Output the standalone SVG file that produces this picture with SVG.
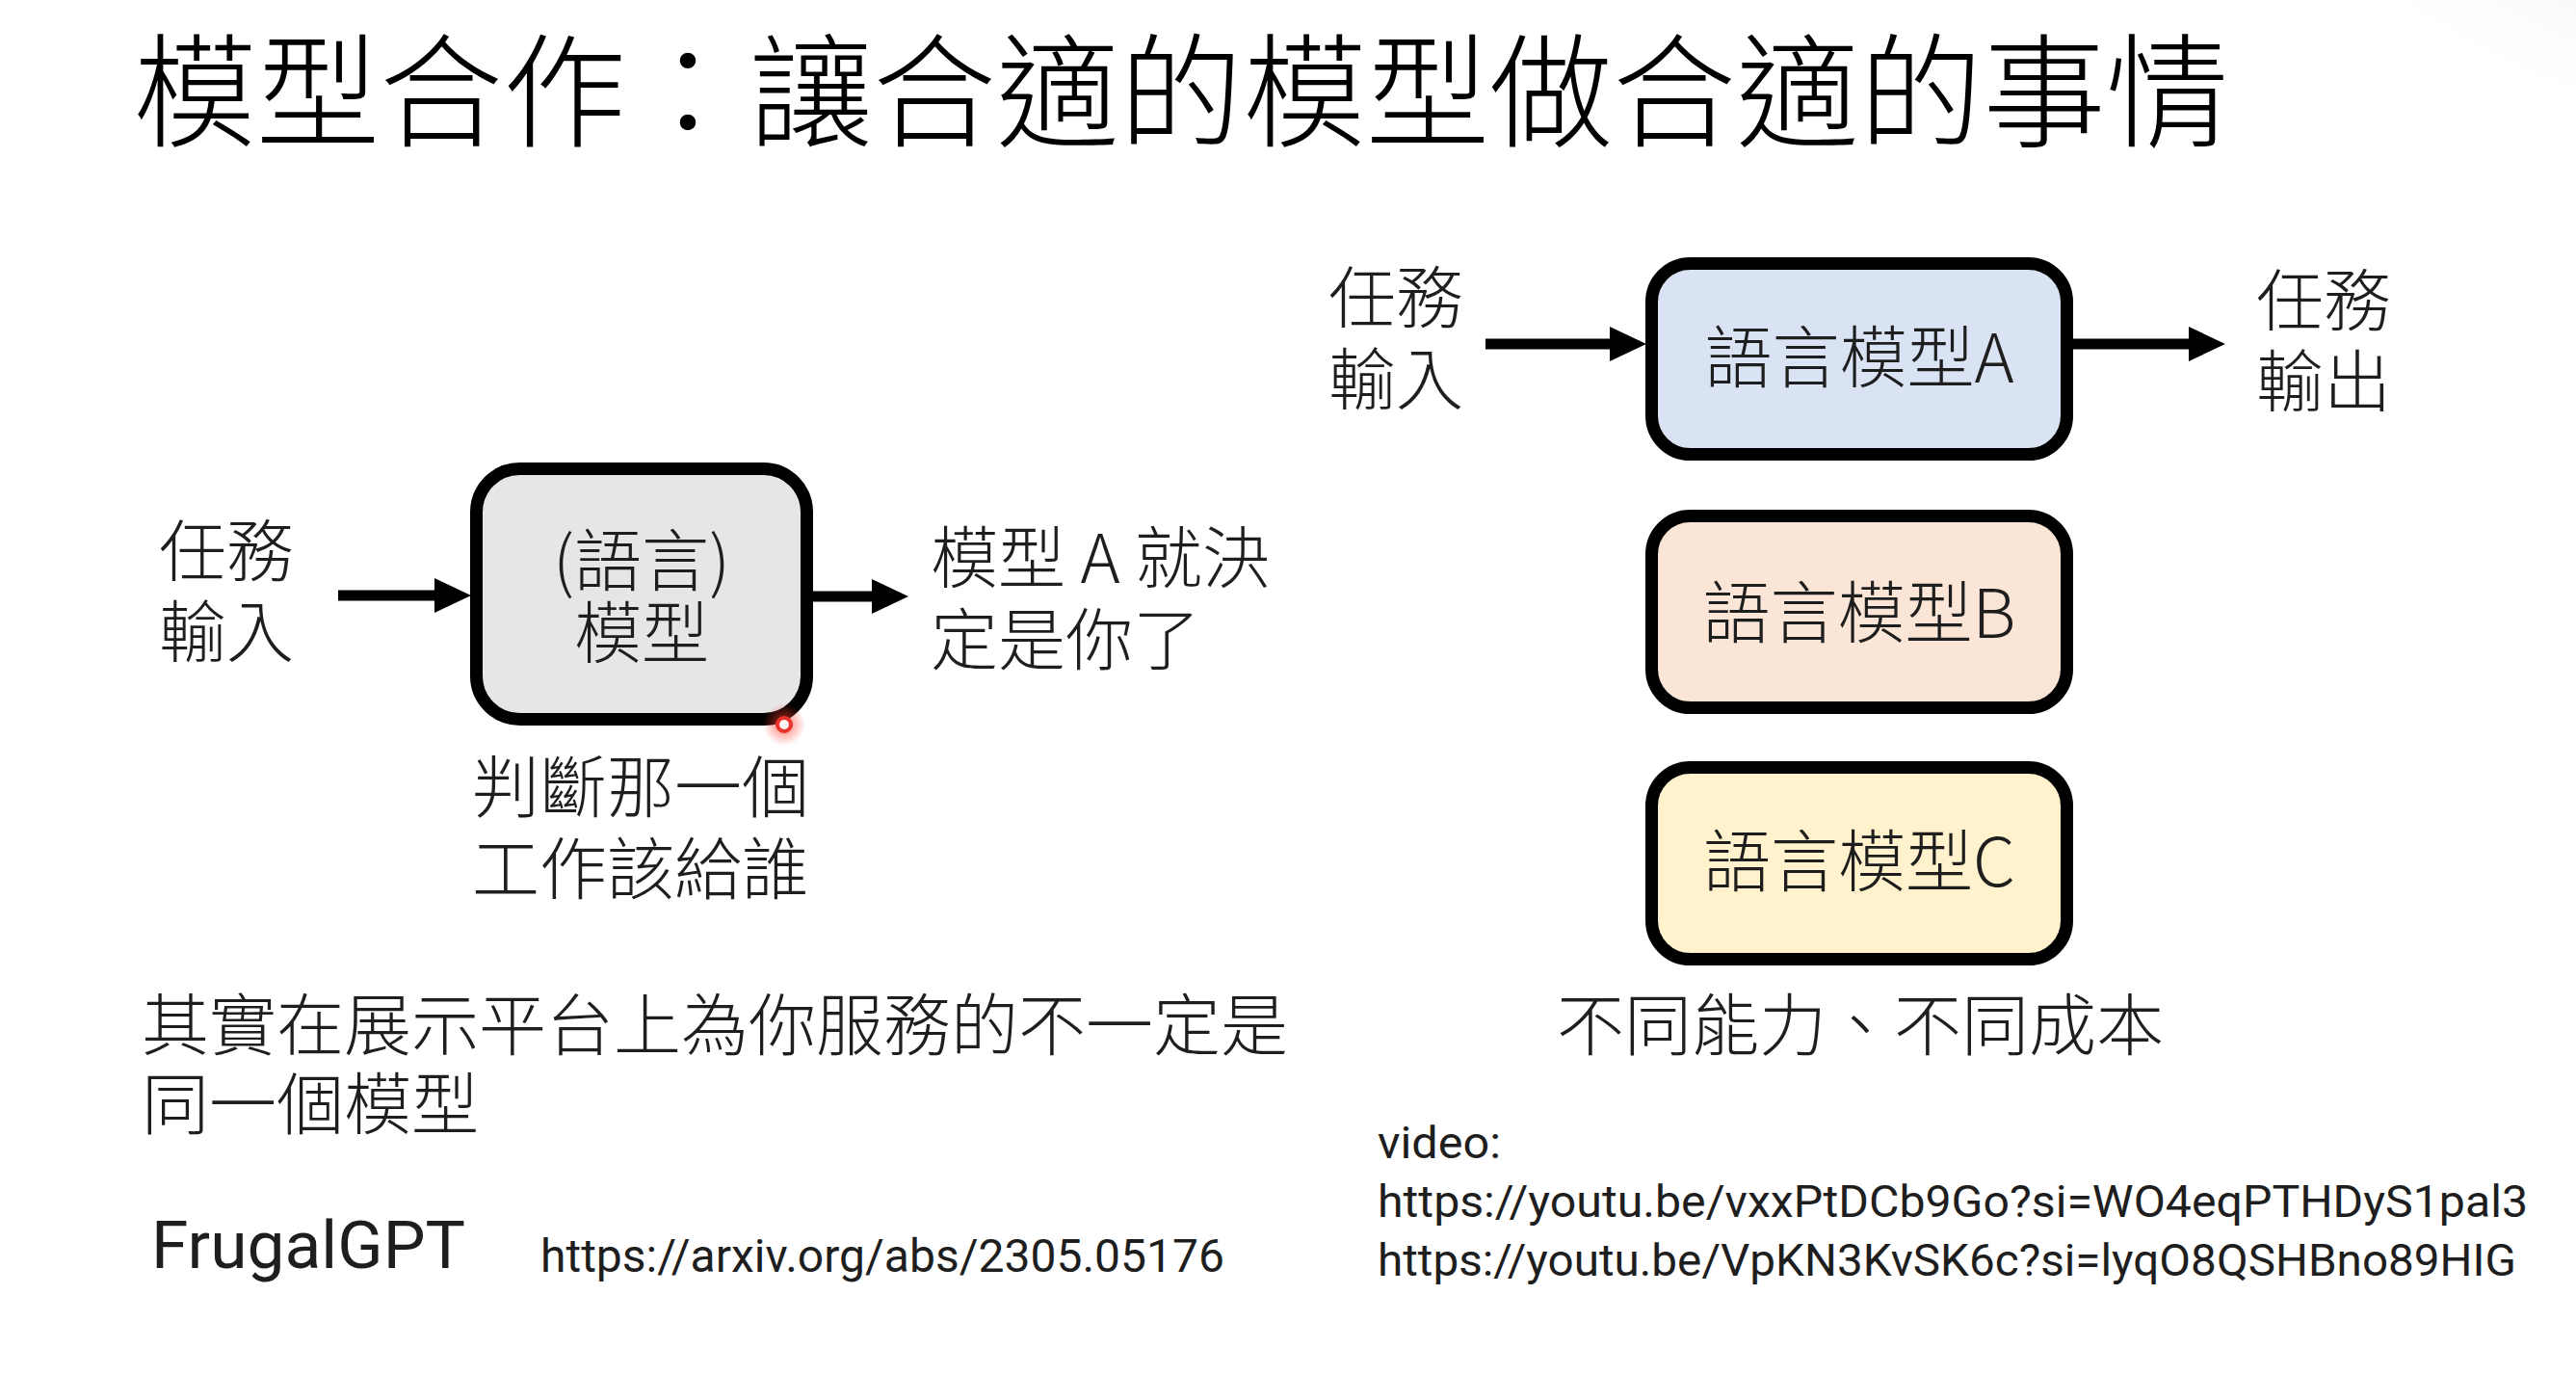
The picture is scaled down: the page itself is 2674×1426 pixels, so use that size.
<svg xmlns="http://www.w3.org/2000/svg" width="2674" height="1426" viewBox="0 0 2674 1426">
<defs>
<style>
.cjk{font-family:"Noto Sans CJK TC","Noto Sans CJK SC",sans-serif;font-weight:300;fill:#1e1e1e}
.t70{font-size:70px}
.box{stroke:#000;stroke-width:13}
.conn{stroke:#000;stroke-width:11;fill:none}
.lat{font-family:Roboto,"Liberation Sans",sans-serif;fill:#1e1e1e}
</style>
<marker id="ah" markerUnits="userSpaceOnUse" markerWidth="38" markerHeight="36" refX="1" refY="17.5" orient="auto" viewBox="0 0 37 35">
<path d="M0,0 L37,17.5 L0,35 z" fill="#000"/>
</marker>
<radialGradient id="corner" cx="1" cy="0" r="1">
<stop offset="0" stop-color="#dedede"/>
<stop offset="0.5" stop-color="#eeeeee"/>
<stop offset="1" stop-color="#ffffff" stop-opacity="0"/>
</radialGradient>
<radialGradient id="glow">
<stop offset="0" stop-color="#ff3b30" stop-opacity="0.7"/>
<stop offset="1" stop-color="#ff3b30" stop-opacity="0"/>
</radialGradient>
</defs>
<rect width="2674" height="1426" fill="#ffffff"/>
<ellipse cx="2674" cy="0" rx="340" ry="180" fill="url(#corner)"/>

<text id="title" class="cjk" x="138" y="143" font-size="128" style="fill:#000">模型合作：讓合適的模型做合適的事情</text>

<g id="connectors">
<line class="conn" x1="351" y1="618" x2="452" y2="618" marker-end="url(#ah)"/>
<line class="conn" x1="840" y1="619" x2="906" y2="619" marker-end="url(#ah)"/>
<line class="conn" x1="1542" y1="357" x2="1672" y2="357" marker-end="url(#ah)"/>
<line class="conn" x1="2148" y1="357" x2="2273" y2="357" marker-end="url(#ah)"/>
</g>

<g id="router">
<rect class="box" x="494.5" y="486.5" width="343" height="260" rx="45" fill="#e6e6e6"/>
<text class="cjk t70" text-anchor="middle"><tspan x="666" y="608">(語言)</tspan><tspan x="666" y="683">模型</tspan></text>
</g>

<g id="left-input">
<text class="cjk t70"><tspan x="165" y="598">任務</tspan><tspan x="165" y="682">輸入</tspan></text>
</g>

<g id="left-output">
<text class="cjk t70"><tspan x="966" y="605">模型 A 就決</tspan><tspan x="966" y="690">定是你了</tspan></text>
</g>

<g id="router-caption">
<text class="cjk t70" text-anchor="middle"><tspan x="665" y="843">判斷那一個</tspan><tspan x="665" y="928">工作該給誰</tspan></text>
</g>

<g id="model-a">
<rect class="box" x="1714.5" y="273.5" width="431" height="198" rx="40" fill="#dae3f3"/>
<text class="cjk t70" x="1930" y="397" text-anchor="middle">語言模型A</text>
</g>
<g id="model-b">
<rect class="box" x="1714.5" y="535.5" width="431" height="199" rx="40" fill="#fbe5d6"/>
<text class="cjk t70" x="1930" y="662" text-anchor="middle">語言模型B</text>
</g>
<g id="model-c">
<rect class="box" x="1714.5" y="796.5" width="431" height="199" rx="40" fill="#fff2cc"/>
<text class="cjk t70" x="1930" y="920" text-anchor="middle">語言模型C</text>
</g>

<g id="right-input">
<text class="cjk t70"><tspan x="1379" y="335">任務</tspan><tspan x="1379" y="420">輸入</tspan></text>
</g>
<g id="right-output">
<text class="cjk t70"><tspan x="2342" y="338">任務</tspan><tspan x="2342" y="422">輸出</tspan></text>
</g>

<g id="models-caption">
<text class="cjk t70" x="1931" y="1090" text-anchor="middle">不同能力、不同成本</text>
</g>

<g id="note">
<text class="cjk t70"><tspan x="147" y="1090">其實在展示平台上為你服務的不一定是</tspan><tspan x="147" y="1172">同一個模型</tspan></text>
</g>

<g id="refs">
<text class="lat" x="157" y="1316" font-size="68" textLength="326" lengthAdjust="spacingAndGlyphs">FrugalGPT</text>
<text class="lat" x="561" y="1320" font-size="48" textLength="710" lengthAdjust="spacingAndGlyphs">https://arxiv.org/abs/2305.05176</text>
<text class="lat" x="1430" y="1202" font-size="46" textLength="128" lengthAdjust="spacingAndGlyphs">video:</text>
<text class="lat" x="1430" y="1263" font-size="46" textLength="1194" lengthAdjust="spacingAndGlyphs">https://youtu.be/vxxPtDCb9Go?si=WO4eqPTHDyS1pal3</text>
<text class="lat" x="1430" y="1324" font-size="46" textLength="1182" lengthAdjust="spacingAndGlyphs">https://youtu.be/VpKN3KvSK6c?si=lyqO8QSHBno89HIG</text>
</g>

<g id="pointer">
<circle cx="814" cy="752" r="22" fill="url(#glow)"/>
<circle cx="814" cy="752" r="7" fill="#fff4f4" stroke="#e8322a" stroke-width="4"/>
</g>
</svg>
